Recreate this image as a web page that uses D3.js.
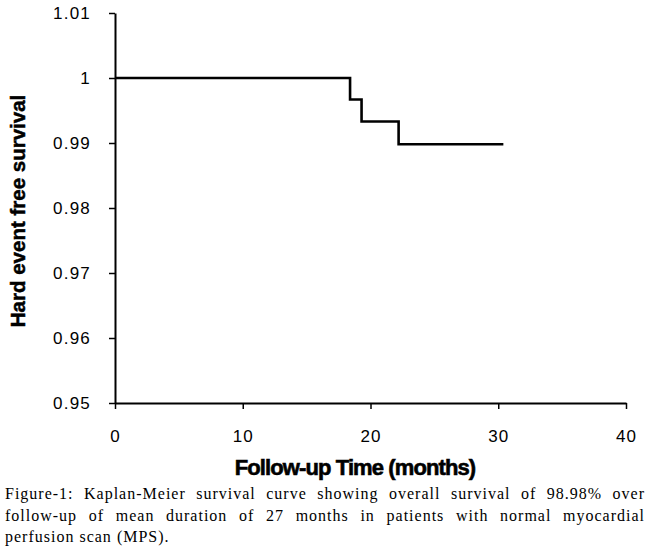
<!DOCTYPE html>
<html>
<head>
<meta charset="utf-8">
<script src="https://cdn.jsdelivr.net/npm/d3@7"></script>
<style>
  body { margin: 0; background: #fff; }
  svg { display: block; }
</style>
</head>
<body>
<svg id="chart" width="650" height="552"></svg>
<script>
// Kaplan-Meier step points (months, survival)
var months   = [0, 18.4, 19.3, 22.2, 30.4];
var survival = [1, 0.9967, 0.9933, 0.9898, 0.9898];
var xTicks = [0, 10, 20, 30, 40];
var yTicks = [0.95, 0.96, 0.97, 0.98, 0.99, 1, 1.01];
var yTitle = "Hard event free survival";
var xTitle = "Follow-up Time (months)";
var captionLines = [
  "Figure-1: Kaplan-Meier survival curve showing overall survival of 98.98% over",
  "follow-up of mean duration of 27 months in patients with normal myocardial",
  "perfusion scan (MPS)."
];

var svg = d3.select("#chart");
var x = d3.scaleLinear().domain([0, 40]).range([115, 626]);
var y = d3.scaleLinear().domain([0.95, 1.01]).range([403, 13]);

// axes
var xAxis = svg.append("g").attr("transform", "translate(0,403)")
  .call(d3.axisBottom(x).tickValues(xTicks).tickSize(6).tickSizeOuter(0).tickPadding(21));
var yAxis = svg.append("g").attr("transform", "translate(115,0)")
  .call(d3.axisLeft(y).tickValues(yTicks).tickSize(6).tickSizeOuter(0).tickPadding(18)
    .tickFormat(function(d){ return +d.toFixed(2); }));

[xAxis, yAxis].forEach(function(a){
  a.select(".domain").attr("stroke", "#000").attr("stroke-width", 2);
  a.selectAll(".tick line").attr("stroke", "#000").attr("stroke-width", 1.5);
  a.selectAll(".tick text").attr("fill", "#000")
    .style("font-family", "Liberation Sans, Arial, sans-serif").style("font-size", "17px");
});
yAxis.selectAll(".tick text").style("letter-spacing", "1.2px");
xAxis.selectAll(".tick text").style("letter-spacing", "1px");

// curve
var line = d3.line()
  .x(function(d){ return x(d[0]); })
  .y(function(d){ return y(d[1]); })
  .curve(d3.curveStepAfter);
svg.append("path")
  .datum(months.map(function(m, i){ return [m, survival[i]]; }))
  .attr("d", line)
  .attr("fill", "none")
  .attr("stroke", "#000")
  .attr("stroke-width", 2.6);

// titles
svg.append("text")
  .attr("transform", "translate(25,211) rotate(-90)")
  .attr("text-anchor", "middle")
  .style("font-family", "Liberation Sans, Arial, sans-serif")
  .style("font-weight", "bold").style("font-size", "20.5px")
  .attr("stroke", "#000").attr("stroke-width", 0.5)
  .text(yTitle);

svg.append("text")
  .attr("x", 355).attr("y", 475)
  .attr("text-anchor", "middle")
  .style("font-family", "Liberation Sans, Arial, sans-serif")
  .style("font-weight", "bold").style("font-size", "22px")
  .style("letter-spacing", "-0.9px")
  .attr("stroke", "#000").attr("stroke-width", 0.6)
  .text(xTitle);

// caption, justified by hand
var capLeft = 5, capRight = 645, capTop = 499, capLead = 21.5;
var capFont = "Liberation Serif, Times New Roman, serif";
var capSpacing = "1px";
var meas = svg.append("text").style("font-family", capFont).style("font-size", "16px")
  .style("letter-spacing", capSpacing);
function wlen(s){ meas.text(s); return meas.node().getComputedTextLength(); }
var spaceW = wlen("a a") - wlen("aa");

captionLines.forEach(function(txt, li){
  var ws = txt.split(" ");
  var last = li === captionLines.length - 1;
  var total = d3.sum(ws, wlen);
  var gap = last ? spaceW : (capRight - capLeft - total) / (ws.length - 1);
  var cx = capLeft;
  var g = svg.append("g");
  ws.forEach(function(w){
    g.append("text")
      .attr("x", cx).attr("y", capTop + li * capLead)
      .style("font-family", capFont)
      .style("font-size", "16px").style("letter-spacing", capSpacing)
      .attr("fill", "#000")
      .text(w);
    cx += wlen(w) + gap;
  });
});
meas.remove();
</script>
</body>
</html>
